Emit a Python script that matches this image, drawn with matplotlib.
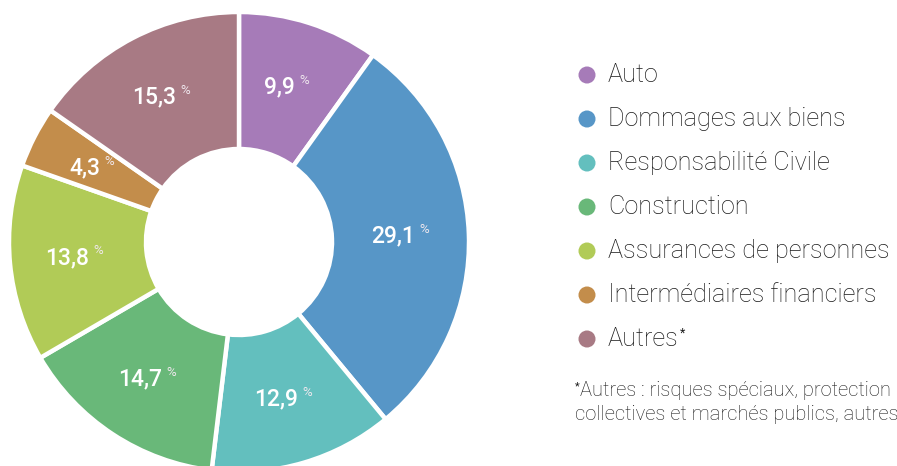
import matplotlib.pyplot as plt
import numpy as np

plt.rcParams["font.family"] = ["Roboto", "DejaVu Sans"]

labels = [
    "Auto",
    "Dommages aux biens",
    "Responsabilité Civile",
    "Construction",
    "Assurances de personnes",
    "Intermédiaires financiers",
    "Autres",
]
shares = [9.9, 29.1, 12.9, 14.7, 13.8, 4.3, 15.3]
value_labels = ["9,9", "29,1", "12,9", "14,7", "13,8", "4,3", "15,3"]
colors = ["#a67bb8", "#5796c7", "#63bfbe", "#69b879", "#b1cb57", "#c38d4b", "#a87a84"]
footnote_lines = [
    "Autres : risques spéciaux, protection",
    "collectives et marchés publics, autres",
]

W, H = 897, 466
fig = plt.figure(figsize=(W / 100, H / 100), dpi=100)

# donut axes: centre at (239, 242) px from top-left, radius 230 px
cx, cy, R = 239, 242, 230
ax = fig.add_axes([(cx - R) / W, (H - cy - R) / H, 2 * R / W, 2 * R / H])
wedges, _ = ax.pie(
    shares,
    colors=colors,
    startangle=90,
    counterclock=False,
    radius=1.0,
    wedgeprops=dict(width=1 - 93 / 230, edgecolor="white", linewidth=3.2),
)
ax.set_xlim(-1, 1)
ax.set_ylim(-1, 1)
ax.set_aspect("equal")
ax.axis("off")

for w, txt in zip(wedges, value_labels):
    ang = np.deg2rad((w.theta1 + w.theta2) / 2)
    r = 0.71
    t = ax.text(
        r * np.cos(ang) - 0.04,
        r * np.sin(ang),
        txt,
        ha="center",
        va="center",
        color="white",
        fontsize=16.5,
        fontweight="medium",
    )
    ax.annotate(
        "%",
        xy=(1, 1),
        xycoords=t,
        xytext=(3, 1),
        textcoords="offset points",
        ha="left",
        va="top",
        color="#f0e8ee",
        fontsize=9.5,
    )

# legend drawn in a pixel-space overlay
lg = fig.add_axes([0, 0, 1, 1])
lg.set_xlim(0, W)
lg.set_ylim(H, 0)
lg.axis("off")
y0, dy = 75, 44
for i, (lab, col) in enumerate(zip(labels, colors)):
    y = y0 + i * dy
    lg.scatter([587], [y], s=150, color=col, edgecolors="none")
    t = lg.text(608, y, lab, ha="left", va="center", fontsize=18.2,
                color="#1a1a1a", fontweight="light")
    if lab == "Autres":
        lg.annotate("*", xy=(1, 1), xycoords=t, xytext=(1, 0),
                    textcoords="offset points", ha="left", va="top",
                    fontsize=9, color="#1a1a1a")

lg.text(575, 381, "*", ha="left", va="top", fontsize=8, color="#1a1a1a")
lg.text(580, 390, footnote_lines[0], ha="left", va="center", fontsize=14.5,
        color="#1a1a1a", fontweight="light")
lg.text(575, 414, footnote_lines[1], ha="left", va="center", fontsize=14.5,
        color="#1a1a1a", fontweight="light")

fig.savefig("out.png", dpi=100)
